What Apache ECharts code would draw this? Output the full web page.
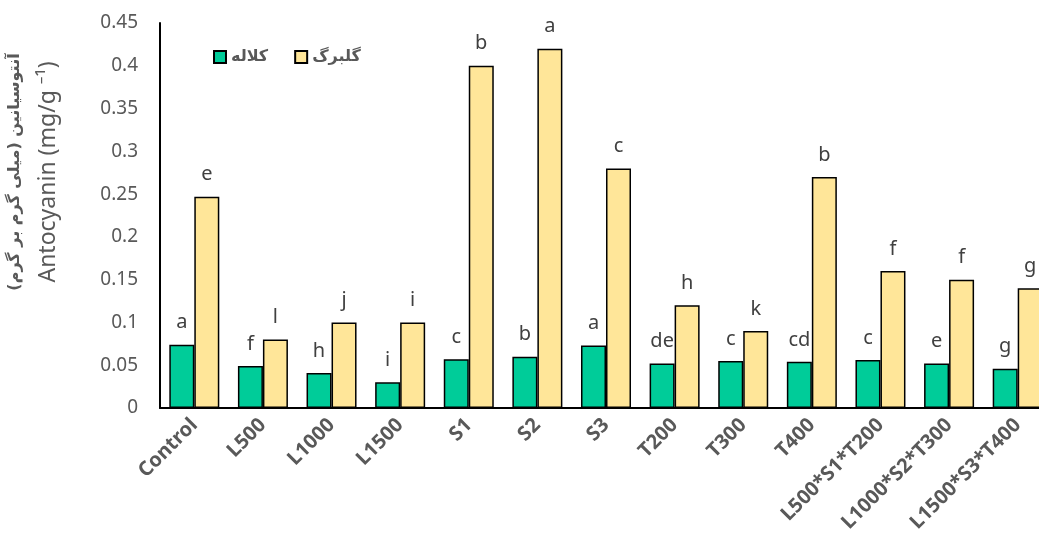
<!DOCTYPE html>
<html>
<head>
<meta charset="utf-8">
<script src="https://cdn.jsdelivr.net/npm/echarts@6/dist/echarts.min.js"></script>
<style>
html, body { margin: 0; padding: 0; background: #fff; }
#chart { width: 1039px; height: 550px; }
</style>
</head>
<body>
<div id="chart"></div>
<script>
var categories = ['Control', 'L500', 'L1000', 'L1500', 'S1', 'S2', 'S3', 'T200', 'T300', 'T400',
	'L500*S1*T200', 'L1000*S2*T300', 'L1500*S3*T400'];
// کلاله (stigma)
var stigma = [0.074, 0.049, 0.041, 0.030, 0.057, 0.060, 0.073, 0.052, 0.055, 0.054, 0.056, 0.052, 0.046];
var stigmaLetters = ['a', 'f', 'h', 'i', 'c', 'b', 'a', 'de', 'c', 'cd', 'c', 'e', 'g'];
// گلبرگ (petal)
var petal = [0.247, 0.080, 0.100, 0.100, 0.400, 0.420, 0.280, 0.120, 0.090, 0.270, 0.160, 0.150, 0.140];
var petalLetters = ['e', 'l', 'j', 'i', 'b', 'a', 'c', 'h', 'k', 'b', 'f', 'f', 'g'];
var yTicks = [0, 0.45, 0.05];

var myChart = echarts.init(document.getElementById('chart'));

function letterLabel(letters) {
	return {
		show : true,
		position : 'top',
		distance : 12,
		color : '#404040',
		fontSize : 20,
		fontFamily : 'Noto Sans',
		formatter : function(p) {
			return letters[p.dataIndex];
		}
	};
}

var option = {
	backgroundColor : '#fff',
	animation : false,
	grid : {
		left : 160,
		top : 23,
		width : 892,
		height : 385,
		outerBoundsMode : 'none'
	},
	legend : {
		left : 208,
		top : 44,
		itemWidth : 12,
		itemHeight : 12,
		itemGap : 26,
		textStyle : {
			color : '#595959',
			fontSize : 16,
			fontWeight : 'bold',
			fontFamily : 'DejaVu Sans'
		},
		data : [
			{ name : 'کلاله', icon : 'rect' },
			{ name : 'گلبرگ', icon : 'rect' }
		]
	},
	xAxis : {
		type : 'category',
		data : categories,
		axisLine : { lineStyle : { color : '#000', width : 2 } },
		axisTick : { show : false },
		axisLabel : {
			interval : 0,
			rotate : 45,
			margin : 14,
			color : '#595959',
			fontSize : 20,
			fontWeight : 'bold',
			fontFamily : 'Noto Sans'
		}
	},
	yAxis : {
		type : 'value',
		min : yTicks[0],
		max : yTicks[1],
		interval : yTicks[2],
		axisLine : { show : true, lineStyle : { color : '#000', width : 2 } },
		axisTick : { show : false },
		splitLine : { show : false },
		axisLabel : {
			margin : 22,
			color : '#595959',
			fontSize : 19,
			fontFamily : 'Noto Sans'
		}
	},
	graphic : [
		{
			type : 'text',
			x : 15,
			y : 172,
			rotation : Math.PI / 2,
			style : {
				text : 'آنتوسیانین (میلی گرم بر گرم)',
				fill : '#595959',
				font : 'bold 16px "DejaVu Sans"',
				align : 'center',
				verticalAlign : 'middle'
			}
		},
		{
			type : 'text',
			x : 48,
			y : 172,
			rotation : Math.PI / 2,
			style : {
				text : 'Antocyanin (mg/g ⁻¹)',
				fill : '#595959',
				font : '23px "Noto Sans"',
				align : 'center',
				verticalAlign : 'middle'
			}
		}
	],
	series : [
		{
			name : 'کلاله',
			type : 'bar',
			data : stigma,
			barWidth : 25,
			barGap : '0%',
			itemStyle : { color : '#00CC99', borderColor : '#000', borderWidth : 1.5 },
			label : letterLabel(stigmaLetters)
		},
		{
			name : 'گلبرگ',
			type : 'bar',
			data : petal,
			barWidth : 25,
			barGap : '0%',
			itemStyle : { color : '#FFE699', borderColor : '#000', borderWidth : 1.5 },
			label : letterLabel(petalLetters)
		}
	]
};
myChart.setOption(option);
</script>
</body>
</html>
